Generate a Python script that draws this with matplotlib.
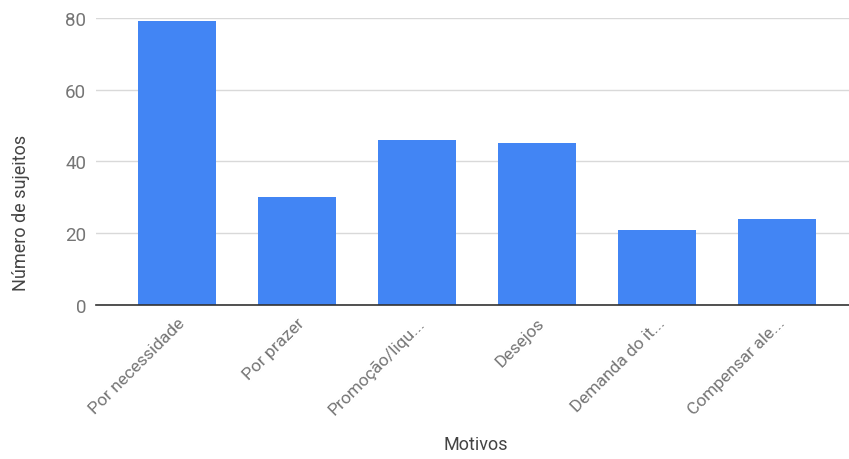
import matplotlib
matplotlib.use("Agg")
import matplotlib.pyplot as plt

categories = ["Por necessidade", "Por prazer", "Promoção/liqu...", "Desejos",
              "Demanda do it...", "Compensar ale..."]
values = [79, 30, 46, 45, 21, 24]
y_ticks = [0, 20, 40, 60, 80]

plt.rcParams["font.family"] = ["Roboto", "DejaVu Sans"]

fig = plt.figure(figsize=(8.49, 4.60), dpi=100)
ax = fig.add_axes([0.113, 0.335, 0.887, 0.624])

x = list(range(len(categories)))
ax.bar(x, values, width=0.65, color="#4285F4", zorder=3)

ax.set_xlim(-0.675, 5.6)
ax.set_ylim(0, 80)
ax.set_yticks(y_ticks)
ax.yaxis.grid(True, color="#d9d9d9", linewidth=1, zorder=0)
ax.set_axisbelow(True)

for side in ["top", "right", "left"]:
    ax.spines[side].set_visible(False)
ax.spines["bottom"].set_color("#333333")
ax.spines["bottom"].set_linewidth(1.2)
ax.spines["bottom"].set_zorder(4)

ax.tick_params(axis="y", length=0, pad=7, labelsize=13.5, labelcolor="#757575")
ax.tick_params(axis="x", length=0, pad=7, labelsize=12.5, labelcolor="#757575")
ax.set_xticks(x)
ax.set_xticklabels(categories, rotation=45, ha="right", rotation_mode="anchor")

# Axis titles
fig.text(0.025, 0.537, "Número de sujeitos", rotation=90, ha="center", va="center",
         fontsize=13, color="#444444")
fig.text(0.56, 0.012, "Motivos", ha="center", va="bottom", fontsize=13, color="#444444")

fig.savefig("out.png", dpi=100)
